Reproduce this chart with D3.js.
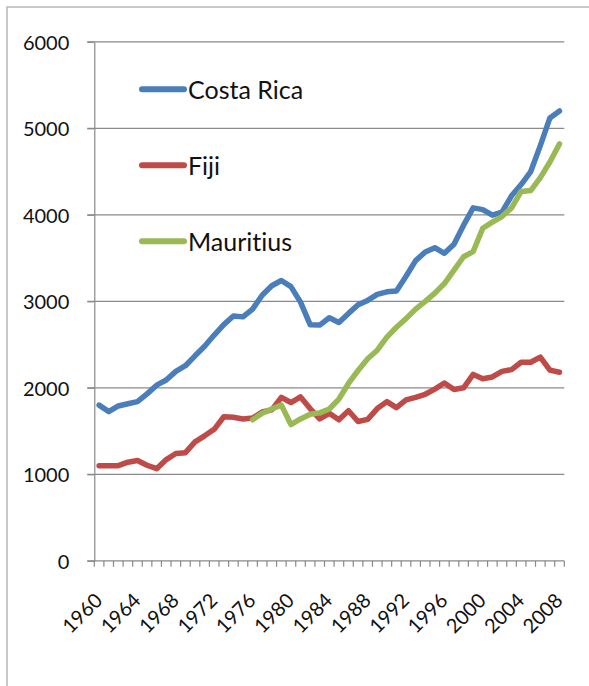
<!DOCTYPE html>
<html>
<head>
<meta charset="utf-8">
<script src="https://cdn.jsdelivr.net/npm/d3@7"></script>
<style>
  html, body { margin: 0; padding: 0; background: #fff; }
  svg { display: block; font-family: Lato, "Open Sans", sans-serif; font-variant-ligatures: none; font-feature-settings: "liga" 0, "clig" 0; }
</style>
</head>
<body>
<svg id="chart" width="589" height="686"></svg>
<script>
const years = d3.range(1960, 2009);
const xLabels = [1960, 1964, 1968, 1972, 1976, 1980, 1984, 1988, 1992, 1996, 2000, 2004, 2008];
const yTicks = [0, 1000, 2000, 3000, 4000, 5000, 6000];

const costaRica = [1800, 1725, 1790, 1815, 1840, 1930, 2030, 2090, 2190, 2255, 2370, 2480, 2610, 2730, 2830, 2820, 2910, 3070, 3180, 3240, 3170, 2990, 2730, 2725, 2810, 2755, 2860, 2960, 3010, 3080, 3110, 3120, 3290, 3470, 3570, 3620, 3555, 3660, 3880, 4080, 4060, 3995, 4030, 4220, 4350, 4500, 4800, 5120, 5200];
const fiji = [1100, 1100, 1100, 1140, 1160, 1105, 1065, 1170, 1240, 1250, 1375, 1445, 1520, 1665, 1660, 1640, 1650, 1720, 1745, 1890, 1830, 1895, 1760, 1640, 1705, 1630, 1735, 1610, 1635, 1760, 1840, 1770, 1860, 1890, 1925, 1985, 2055, 1980, 2000, 2155, 2105, 2125, 2190, 2210, 2295, 2295, 2355, 2205, 2180];
const mauritius = [null, null, null, null, null, null, null, null, null, null, null, null, null, null, null, null, 1630, 1705, 1755, 1800, 1575, 1640, 1695, 1710, 1755, 1870, 2050, 2200, 2335, 2435, 2585, 2700, 2800, 2910, 3000, 3095, 3205, 3360, 3515, 3575, 3845, 3915, 3980, 4080, 4270, 4280, 4430, 4610, 4820];

const seriesNames = ["Costa Rica", "Fiji", "Mauritius"];
const seriesColors = ["#4A7EBB", "#BE4B48", "#98B954"];
const seriesData = [costaRica, fiji, mauritius];

(function () {
const svg = d3.select("#chart");
const L = 94.3, R = 564.3, T = 41.8, B = 560.8;
const gridColor = "#8a8a8a";

// outer frame
svg.append("rect").attr("x", 7).attr("y", 7).attr("width", 640).attr("height", 740)
  .attr("fill", "none").attr("stroke", "#b8b8b8").attr("stroke-width", 1.5);

const x = d3.scaleBand().domain(years).range([L, R]).paddingInner(0).paddingOuter(0);
const y = d3.scaleLinear().domain([0, 6000]).range([B, T]);

// gridlines
svg.append("g").selectAll("line").data(yTicks).join("line")
  .attr("x1", L - 7).attr("x2", R)
  .attr("y1", d => y(d)).attr("y2", d => y(d))
  .attr("stroke", gridColor).attr("stroke-width", 1.2);

// y axis
const yAxis = svg.append("g").attr("transform", `translate(${L},0)`)
  .call(d3.axisLeft(y).tickValues(yTicks).tickSize(7).tickSizeOuter(0).tickPadding(18).tickFormat(d3.format("d")));
yAxis.select(".domain").attr("stroke", gridColor).attr("stroke-width", 1.2);
yAxis.selectAll(".tick line").attr("stroke", gridColor).attr("stroke-width", 1.2);
yAxis.selectAll(".tick text").attr("font-size", 20).attr("fill", "#111")
  .attr("font-family", "Lato, sans-serif").attr("dy", "0.36em");

// x axis ticks at category boundaries
const boundaries = years.map(d => x(d)).concat([x(years[years.length - 1]) + x.bandwidth()]);
svg.append("g").selectAll("line").data(boundaries).join("line")
  .attr("x1", d => d).attr("x2", d => d)
  .attr("y1", B).attr("y2", B + 6)
  .attr("stroke", gridColor).attr("stroke-width", 1.2);

// x labels
svg.append("g").selectAll("text").data(xLabels).join("text")
  .attr("transform", d => `translate(${x(d) + x.bandwidth() / 2 + 4.5},${B + 41}) rotate(-45)`)
  .attr("text-anchor", "end").attr("font-size", 20).attr("fill", "#111")
  .text(d => d);

// lines
const line = d3.line()
  .defined(d => d[1] != null)
  .x(d => x(d[0]) + x.bandwidth() / 2)
  .y(d => y(d[1]));

seriesData.forEach((vals, k) => {
  svg.append("path")
    .datum(years.map((yr, i) => [yr, vals[i]]))
    .attr("d", line)
    .attr("fill", "none")
    .attr("stroke", seriesColors[k])
    .attr("stroke-width", 5.5)
    .attr("stroke-linejoin", "round")
    .attr("stroke-linecap", "round");
});

// legend
const legendY = [89.3, 165.3, 241.3];
const lg = svg.append("g");
seriesNames.forEach((name, k) => {
  lg.append("line").attr("x1", 142).attr("x2", 184)
    .attr("y1", legendY[k]).attr("y2", legendY[k])
    .attr("stroke", seriesColors[k]).attr("stroke-width", 6).attr("stroke-linecap", "round");
  lg.append("text").attr("x", 188).attr("y", legendY[k] + 9.2)
    .attr("font-size", 25).attr("fill", "#111").text(name);
});
})();
</script>
</body>
</html>
